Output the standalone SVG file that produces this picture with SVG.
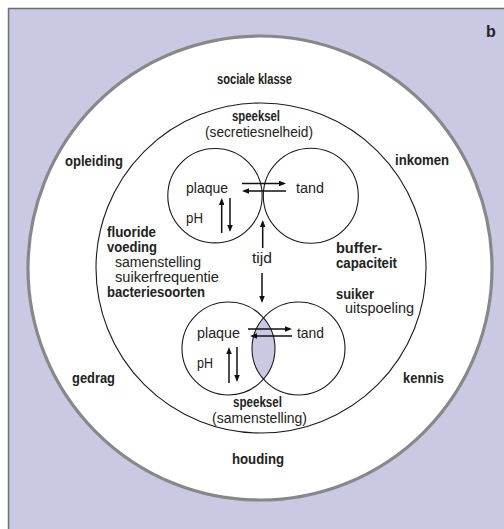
<svg xmlns="http://www.w3.org/2000/svg" width="504" height="529" viewBox="0 0 504 529">
<style>
text{font-family:"Liberation Sans",Arial,sans-serif;font-size:14px;fill:#222}
.b{font-weight:bold}
.thin{fill:none;stroke:#1a1a1a;stroke-width:1.1}
.arr{stroke:#111;stroke-width:1.5;fill:none;marker-end:url(#ah)}
</style>
<defs>
<marker id="ah" viewBox="0 0 7 5.5" refX="5" refY="2.75" markerWidth="7" markerHeight="5.5" markerUnits="userSpaceOnUse" orient="auto">
<path d="M0,0 L7,2.75 L0,5.5 z" fill="#111"/>
</marker>
</defs>
<g id="background">
<rect x="8.5" y="8.5" width="520" height="540" fill="#c9c9e3" stroke="#6e6e6e" stroke-width="1.5"/>
<text class="b" x="486" y="37" style="font-size:16px">b</text>
</g>
<g id="outer">
<circle cx="260" cy="268" r="232" fill="#fff" stroke="#888" stroke-width="3.2"/>
<text class="b" x="217" y="84" textLength="75" lengthAdjust="spacingAndGlyphs">sociale klasse</text>
<text class="b" x="65" y="166" textLength="58" lengthAdjust="spacingAndGlyphs">opleiding</text>
<text class="b" x="395" y="165" textLength="54" lengthAdjust="spacingAndGlyphs">inkomen</text>
<text class="b" x="72" y="383" textLength="43" lengthAdjust="spacingAndGlyphs">gedrag</text>
<text class="b" x="403" y="383" textLength="41" lengthAdjust="spacingAndGlyphs">kennis</text>
<text class="b" x="232" y="464" textLength="52" lengthAdjust="spacingAndGlyphs">houding</text>
</g>
<g id="inner">
<circle class="thin" cx="261" cy="268" r="165"/>
<text class="b" x="232" y="121" textLength="48" lengthAdjust="spacingAndGlyphs">speeksel</text>
<text x="205" y="137" textLength="108" lengthAdjust="spacingAndGlyphs">(secretiesnelheid)</text>
<text class="b" x="107" y="237" textLength="49" lengthAdjust="spacingAndGlyphs">fluoride</text>
<text class="b" x="107" y="252" textLength="50" lengthAdjust="spacingAndGlyphs">voeding</text>
<text x="115" y="267" textLength="86" lengthAdjust="spacingAndGlyphs">samenstelling</text>
<text x="115" y="282" textLength="104" lengthAdjust="spacingAndGlyphs">suikerfrequentie</text>
<text class="b" x="107" y="297" textLength="98" lengthAdjust="spacingAndGlyphs">bacteriesoorten</text>
<text class="b" x="336" y="253" textLength="46" lengthAdjust="spacingAndGlyphs">buffer-</text>
<text class="b" x="336" y="268" textLength="61" lengthAdjust="spacingAndGlyphs">capaciteit</text>
<text class="b" x="336" y="299" textLength="38" lengthAdjust="spacingAndGlyphs">suiker</text>
<text x="345" y="313" textLength="69" lengthAdjust="spacingAndGlyphs">uitspoeling</text>
<text x="252" y="263" textLength="20" lengthAdjust="spacingAndGlyphs">tijd</text>
<text class="b" x="233" y="407" textLength="49" lengthAdjust="spacingAndGlyphs">speeksel</text>
<text x="212" y="423" textLength="95" lengthAdjust="spacingAndGlyphs">(samenstelling)</text>
</g>
<g id="top-pair">
<circle class="thin" cx="215" cy="195.7" r="47.2"/>
<circle class="thin" cx="310.8" cy="195.7" r="47.5"/>
<text x="186" y="193" textLength="42" lengthAdjust="spacingAndGlyphs">plaque</text>
<text x="296" y="193" textLength="28" lengthAdjust="spacingAndGlyphs">tand</text>
<text x="186" y="223" textLength="17" lengthAdjust="spacingAndGlyphs">pH</text>
</g>
<g id="bottom-pair">
<path d="M263.5 317.9 A46.5 46.5 0 0 1 263.5 379.1 A46.5 46.5 0 0 1 263.5 317.9 Z" fill="#c9c9e3"/>
<circle class="thin" cx="228.5" cy="348.5" r="46.5"/>
<circle class="thin" cx="298.5" cy="348.5" r="46.5"/>
<text x="197" y="338" textLength="43" lengthAdjust="spacingAndGlyphs">plaque</text>
<text x="297" y="338" textLength="27" lengthAdjust="spacingAndGlyphs">tand</text>
<text x="197" y="368" textLength="16" lengthAdjust="spacingAndGlyphs">pH</text>
</g>
<g id="connectors">
<line class="arr" x1="242" y1="183.5" x2="284" y2="183.5"/>
<line class="arr" x1="286" y1="191" x2="244" y2="191"/>
<line class="arr" x1="221.7" y1="233" x2="221.7" y2="200"/>
<line class="arr" x1="230" y1="198" x2="230" y2="230"/>
<line class="arr" x1="262.7" y1="248" x2="262.7" y2="222"/>
<line class="arr" x1="262" y1="273" x2="262" y2="301"/>
<line class="arr" x1="248" y1="329" x2="290" y2="329"/>
<line class="arr" x1="292" y1="336" x2="252" y2="336"/>
<line class="arr" x1="229" y1="383" x2="229" y2="349"/>
<line class="arr" x1="237" y1="347" x2="237" y2="380"/>
</g>
</svg>
